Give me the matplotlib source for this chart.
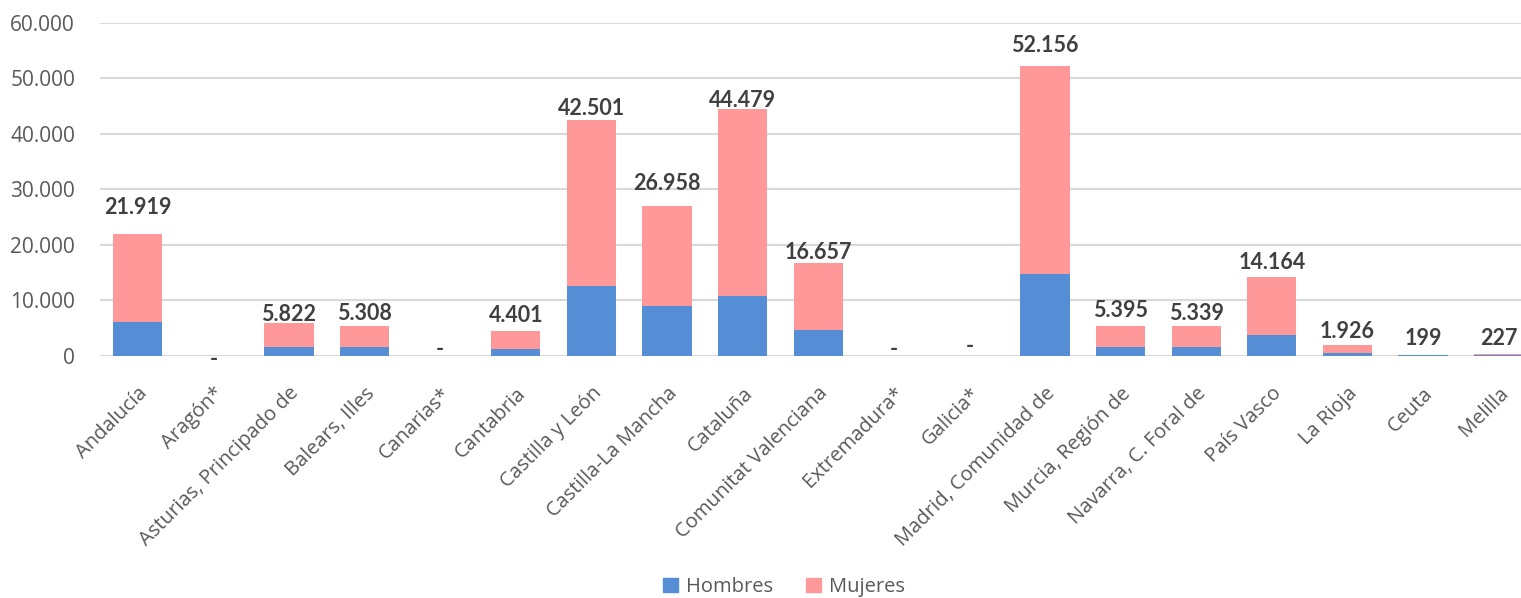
import matplotlib
matplotlib.use("Agg")
import matplotlib.pyplot as plt
from matplotlib.patches import Patch

categories = ["Andalucía", "Aragón*", "Asturias, Principado de", "Balears, Illes",
              "Canarias*", "Cantabria", "Castilla y León", "Castilla-La Mancha",
              "Cataluña", "Comunitat Valenciana", "Extremadura*", "Galicia*",
              "Madrid, Comunidad de", "Murcia, Región de", "Navarra, C. Foral de",
              "País Vasco", "La Rioja", "Ceuta", "Melilla"]
totals = [21919, 0, 5822, 5308, 0, 4401, 42501, 26958, 44479, 16657, 0, 0,
          52156, 5395, 5339, 14164, 1926, 199, 227]
hombres = [6130, 0, 1570, 1570, 0, 1210, 12620, 9020, 10820, 4690, 0, 0,
           14680, 1570, 1570, 3730, 540, 40, 50]
mujeres = [t - h for t, h in zip(totals, hombres)]
# label vertical offsets above bar top (pixels), as placed in the original
label_offsets = [27, -4, 9, 13, 6, 15.5, 12, 22.5, 9, 11, 6, 9,
                 21, 15, 12.5, 15, 14, 16, 16]

W, H = 1521, 598
fig = plt.figure(figsize=(W / 100, H / 100), dpi=100)
left_px, right_px = 100, 1521
top_px, bottom_px = 23, 355.7
ax = fig.add_axes([left_px / W, 1 - bottom_px / H, (right_px - left_px) / W,
                   (bottom_px - top_px) / H])

blue = "#558ED5"
pink = "#FF9999"
x = list(range(len(categories)))
ax.bar(x, hombres, width=0.65, color=blue, zorder=3)
ax.bar(x, mujeres, width=0.65, bottom=hombres, color=pink, zorder=3)

ax.set_ylim(0, 60000)
ax.set_xlim(-0.5, (right_px - left_px) / 75.6 - 0.5)
yt = list(range(0, 60001, 10000))
ax.set_yticks(yt)
ax.set_yticklabels(["0" if v == 0 else f"{v // 1000}.000" for v in yt],
                   fontsize=15, color="#595959", family="Open Sans")
ax.yaxis.grid(True, color="#d9d9d9", linewidth=1.5, zorder=0)
ax.set_axisbelow(True)
for s in ax.spines.values():
    s.set_visible(False)
ax.tick_params(axis="both", length=0)
ax.tick_params(axis="y", pad=18)

ax.set_xticks(x)
ax.set_xticklabels(categories, rotation=45, ha="right", rotation_mode="anchor",
                   fontsize=14.5, color="#595959", family="Open Sans")
ax.tick_params(axis="x", pad=20)

for xi, t, off in zip(x, totals, label_offsets):
    txt = "-" if t == 0 else f"{t:,}".replace(",", ".")
    ax.annotate(txt, (xi, t), xytext=(0, off * 0.72), textcoords="offset points",
                ha="center", va="center", fontsize=15.5, fontweight="bold",
                color="#404040", family="Lato")

handles = [Patch(color=blue, label="Hombres"), Patch(color=pink, label="Mujeres")]
fig.legend(handles=handles, loc="center", bbox_to_anchor=(784 / W, 1 - 587 / H),
           ncol=2, frameon=False, handlelength=0.75, handleheight=0.75,
           handletextpad=0.4, columnspacing=1.6,
           prop={"family": "Open Sans", "size": 14.5}, labelcolor="#595959")

fig.savefig("out.png", dpi=100)
